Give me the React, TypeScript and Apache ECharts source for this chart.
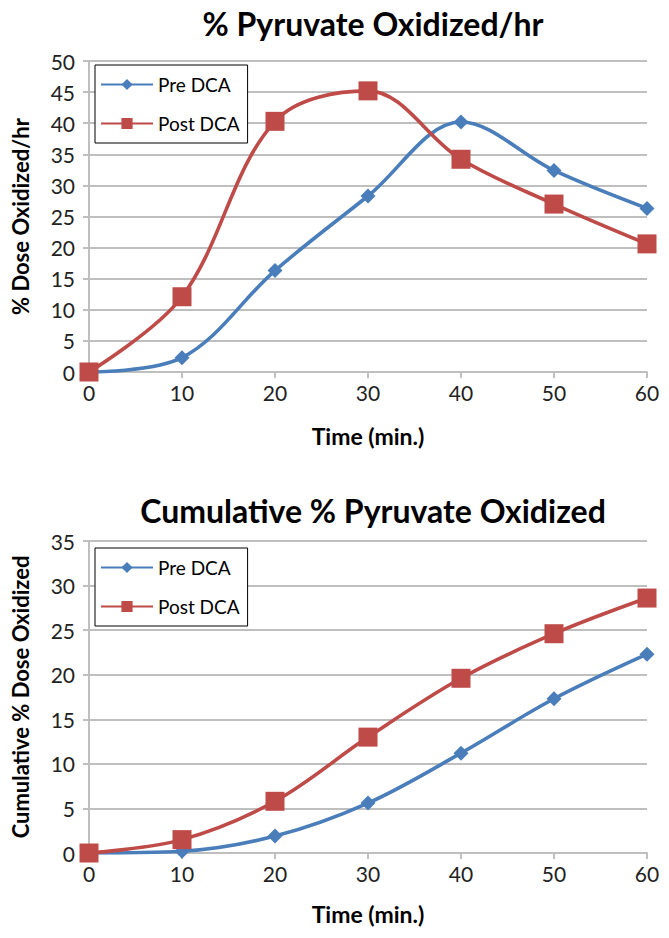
import React, { useEffect, useRef } from "react";
import * as echarts from "echarts";

const timeMin = [0, 10, 20, 30, 40, 50, 60];
const ratePre = [0, 2.3, 16.3, 28.3, 40.2, 32.4, 26.3];
const ratePost = [0, 12.1, 40.3, 45.2, 34.2, 27.0, 20.6];
const cumPre = [0, 0.2, 1.9, 5.6, 11.2, 17.3, 22.3];
const cumPost = [0, 1.5, 5.8, 13.0, 19.6, 24.6, 28.6];
const seriesNames = ["Pre DCA", "Post DCA"];
const titles = ["% Pyruvate Oxidized/hr", "Cumulative % Pyruvate Oxidized"];
const yNames = ["% Dose Oxidized/hr", "Cumulative % Dose Oxidized"];
const xName = "Time (min.)";

const BLUE = "#4A7EBB";
const RED = "#BE4B48";
const GRID = "#BFBFBF";
const FONT = "Lato";

export default function App() {
  const ref = useRef<HTMLDivElement>(null);
  useEffect(() => {
    if (!ref.current) return;
    const chart = echarts.init(ref.current, null, { renderer: "svg" });
    const pairs = (ys: number[]) => timeMin.map((t, i) => [t, ys[i]]);
    const grids = [
      { left: 89, right: 22, top: 61, height: 311 },
      { left: 89, right: 22, top: 541, height: 312 },
    ];
    const xAxis = [0, 1].map((g) => ({
      type: "value",
      gridIndex: g,
      min: 0,
      max: 60,
      interval: 10,
      name: xName,
      nameLocation: "middle",
      nameGap: g === 0 ? 52 : 49,
      nameTextStyle: { fontFamily: FONT, fontWeight: "bold", fontSize: 23, color: "#000" },
      axisLine: { show: true, lineStyle: { color: GRID, width: 2 } },
      axisTick: { show: true, length: 6, lineStyle: { color: GRID, width: 2 } },
      axisLabel: { fontFamily: FONT, fontSize: 21, color: "#222", margin: 10 },
      splitLine: { show: false },
    }));
    const yAxis = [0, 1].map((g) => ({
      type: "value",
      gridIndex: g,
      min: 0,
      max: g === 0 ? 50 : 35,
      interval: 5,
      name: yNames[g],
      nameLocation: "middle",
      nameGap: 58,
      nameTextStyle: { fontFamily: FONT, fontWeight: "bold", fontSize: 22, color: "#000" },
      axisLine: { show: true, lineStyle: { color: GRID, width: 2 } },
      axisTick: { show: true, length: 6, lineStyle: { color: GRID, width: 2 } },
      axisLabel: { fontFamily: FONT, fontSize: 21, color: "#222", margin: 14 },
      splitLine: { show: true, lineStyle: { color: GRID, width: 2 } },
    }));
    const mk = (name: string, data: number[], g: number) => {
      const pre = name === seriesNames[0];
      return {
        type: "line",
        name,
        xAxisIndex: g,
        yAxisIndex: g,
        data: pairs(data),
        smooth: 0.35,
        symbol: pre ? "diamond" : "rect",
        symbolSize: pre ? 15 : 19,
        lineStyle: { color: pre ? BLUE : RED, width: 3.6 },
        itemStyle: { color: pre ? BLUE : RED },
        z: pre ? 2 : 3,
      };
    };
    chart.setOption({
      animation: false,
      backgroundColor: "#fff",
      title: [0, 1].map((g) => ({
        text: titles[g],
        left: 368,
        textAlign: "center",
        top: g === 0 ? 2 : 489,
        textStyle: { fontFamily: FONT, fontWeight: "bold", fontSize: 32, color: "#000" },
      })),
      legend: [0, 1].map((g) => ({
        data: seriesNames,
        orient: "vertical",
        left: 95,
        top: g === 0 ? 65 : 548,
        itemWidth: 52,
        itemHeight: 14,
        itemGap: 20,
        padding: [10, 8, 10, 5],
        borderColor: "#000",
        borderWidth: 1,
        backgroundColor: "#fff",
        textStyle: { fontFamily: FONT, fontSize: 19, color: "#000" },
      })),
      grid: grids,
      xAxis,
      yAxis,
      series: [
        mk(seriesNames[0], ratePre, 0),
        mk(seriesNames[1], ratePost, 0),
        mk(seriesNames[0], cumPre, 1),
        mk(seriesNames[1], cumPost, 1),
      ],
    });
    return () => chart.dispose();
  }, []);
  return (
    <div
      ref={ref}
      style={{ position: "absolute", left: 0, top: 0, width: 669, height: 938 }}
    />
  );
}
